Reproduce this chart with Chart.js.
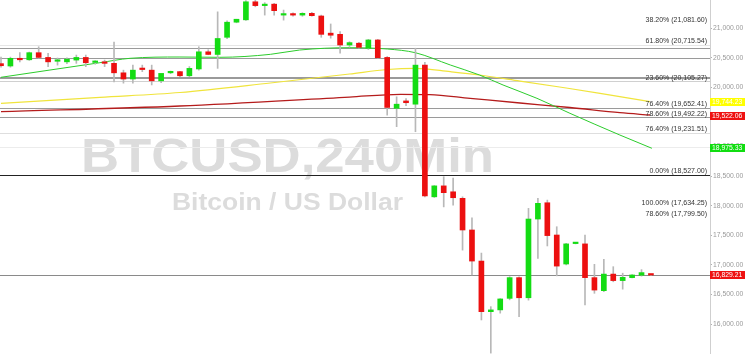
<!DOCTYPE html>
<html>
<head>
<meta charset="utf-8">
<script src="https://cdn.jsdelivr.net/npm/chart.js@4.4.1/dist/chart.umd.min.js"></script>
<style>
    html, body { margin: 0; padding: 0; background: #fff; }
    #wrap { width: 745px; height: 354px; }
</style>
</head>
<body>
<div id="wrap"><canvas id="btcChart" width="745" height="354"></canvas></div>
<script>
// BTCUSD 240 min candles
const opens  = [20400, 20360, 20490, 20465, 20585, 20505, 20440, 20430, 20460, 20505,
                20420, 20415, 20405, 20245, 20140, 20320, 20290, 20110, 20245, 20265,
                20195, 20310, 20600, 20555, 20845, 21100, 21140, 21445, 21380, 21405,
                21220, 21240, 21220, 21250, 21205, 20915, 20895, 20715, 20745, 20660,
                20800, 20505, 19645, 19770, 19715, 20375, 18150, 18335, 18235, 18125,
                17590, 17065, 16210, 16240, 16435, 16785, 16445, 17775, 18050, 17505,
                17015, 17360, 17355, 16785, 16565, 16845, 16735, 16785, 16825, 16830];
const highs  = [20510, 20510, 20585, 20595, 20685, 20575, 20495, 20500, 20545, 20545,
                20450, 20460, 20765, 20290, 20375, 20375, 20375, 20140, 20275, 20270,
                20350, 20685, 20635, 21275, 21125, 21150, 21465, 21470, 21430, 21420,
                21305, 21260, 21260, 21265, 21220, 21070, 20940, 20770, 20760, 20810,
                20810, 20520, 19840, 19810, 20660, 20420, 18340, 18490, 18465, 18150,
                17795, 17200, 16295, 16430, 16800, 16800, 17955, 18125, 18095, 17645,
                17365, 17375, 17505, 17010, 17095, 16970, 16860, 16835, 16920, 16835];
const lows   = [20340, 20340, 20430, 20455, 20490, 20350, 20375, 20400, 20405, 20350,
                20390, 20350, 20090, 20070, 20070, 20265, 20040, 20080, 20230, 20180,
                20180, 20290, 20550, 20320, 20820, 21090, 21130, 21360, 21220, 21220,
                21135, 21200, 21200, 21200, 20845, 20830, 20575, 20690, 20660, 20640,
                20490, 19530, 19335, 19690, 19250, 18150, 18140, 17980, 18010, 17250,
                16830, 16070, 15510, 16185, 16410, 16125, 16405, 17110, 17320, 16815,
                17000, 17355, 16325, 16520, 16550, 16715, 16590, 16780, 16810, 16820];
const closes = [20365, 20490, 20465, 20585, 20505, 20430, 20450, 20475, 20505, 20415,
                20428, 20405, 20245, 20140, 20290, 20300, 20110, 20235, 20265, 20195,
                20320, 20600, 20555, 20825, 21100, 21150, 21445, 21380, 21405, 21295,
                21240, 21220, 21250, 21210, 20895, 20880, 20715, 20755, 20675, 20800,
                20500, 19660, 19715, 19740, 20375, 18165, 18335, 18220, 18135, 17590,
                17065, 16210, 16240, 16425, 16785, 16445, 17775, 18040, 17495, 16980,
                17355, 17370, 16785, 16575, 16845, 16735, 16790, 16830, 16870, 16829];

// moving averages, sampled at candle positions
const maFastIdx  = [0, 5.2, 10.5, 13.7, 19, 23.2, 28.6, 31.7, 37, 41, 44, 47.7, 50.8, 53.3, 56.9, 60.4, 65.7, 69.1];
const maFast     = [20169, 20292, 20416, 20490, 20512, 20507, 20557, 20630, 20669, 20647, 20584, 20377, 20208, 20039, 19814, 19561, 19194, 18970];
const maMidIdx   = [0, 10.5, 19, 28.6, 37, 41, 44, 47.7, 50.8, 55.1, 59.3, 63.6, 68.9];
const maMid      = [19730, 19831, 19912, 20073, 20225, 20301, 20321, 20264, 20208, 20106, 20005, 19899, 19757];
const maSlowIdx  = [0, 19, 37, 42.4, 45.5, 49.8, 55.1, 60.4, 65.7, 68.9];
const maSlow     = [19588, 19684, 19836, 19882, 19878, 19814, 19735, 19659, 19571, 19532];

// fibonacci levels and other horizontal levels
const fibPct   = ['38.20%', '61.80%', '23.60%', '76.40%', '78.60%', '76.40%', '0.00%', '100.00%', '78.60%'];
const fibPrice = [21081.60, 20715.54, 20105.27, 19652.41, 19492.22, 19231.51, 18527.00, 17634.25, 17799.50];
const levelPrices = [20659, 20490, 20179, 20152, 18992];

// right-hand price tags
const tagPrices = [19744.23, 19522.06, 18975.33, 16829.21];
const lastPrice = 16829.21;

const yTicks = [16000, 16500, 17000, 17500, 18000, 18500, 19000, 19500, 20000, 20500, 21000];

const UP = '#14dc14';
const DOWN = '#ec1010';

function fmt(v) {
    return v.toLocaleString('en-US', { minimumFractionDigits: 2, maximumFractionDigits: 2 });
}

const fibLineColors = ['rgba(0,0,0,0)', '#e6e6e6', '#d0d0d0', '#9a9a9a', '#9a9a9a', '#dedede', '#222222', 'rgba(0,0,0,0)', 'rgba(0,0,0,0)'];
const fibLabelShift = [0, 0, 0, 0, 0, 0, 0, -21, 0];
const levelColors = ['#9a9a9a', '#9a9a9a', '#9a9a9a', '#9a9a9a', '#ececec'];
const tagColors = ['#ffff00', '#ee1111', '#11dd11', '#ee1111'];

const backdrop = {
    id: 'backdrop',
    beforeDatasetsDraw(chart) {
        const { ctx, chartArea: a, scales: { y } } = chart;
        ctx.save();
        // watermark
        ctx.fillStyle = '#dcdcdc';
        ctx.textBaseline = 'alphabetic';
        ctx.textAlign = 'left';
        const drawStretched = (text, font, x0, x1, base) => {
            ctx.font = font;
            const w = ctx.measureText(text).width;
            ctx.save();
            ctx.translate(x0, base);
            ctx.scale((x1 - x0) / w, 1);
            ctx.fillText(text, 0, 0);
            ctx.restore();
        };
        drawStretched('BTCUSD,240Min', 'bold 49px "Liberation Sans", Arial, sans-serif', 81, 494, 172);
        drawStretched('Bitcoin / US Dollar', 'bold 24px "Liberation Sans", Arial, sans-serif', 172, 403, 210);

        ctx.lineWidth = 1;
        const hline = (price, color) => {
            const py = Math.round(y.getPixelForValue(price)) + 0.5;
            ctx.strokeStyle = color;
            ctx.beginPath();
            ctx.moveTo(a.left, py);
            ctx.lineTo(a.right, py);
            ctx.stroke();
        };
        levelPrices.forEach((p, i) => hline(p, levelColors[i]));
        fibPrice.forEach((p, i) => hline(p, fibLineColors[i]));
        hline(lastPrice, '#8a8a8a');
        ctx.restore();
    },
    afterDraw(chart) {
        const { ctx, chartArea: a, scales: { y } } = chart;
        ctx.save();
        ctx.font = '7px "Liberation Sans", Arial, sans-serif';
        ctx.fillStyle = '#333';
        ctx.textAlign = 'right';
        ctx.textBaseline = 'bottom';
        fibPrice.forEach((p, i) => {
            const py = y.getPixelForValue(p) + fibLabelShift[i];
            ctx.fillText(`${fibPct[i]} (${fmt(p)})`, a.right - 3, py);
        });
        // price tags on the axis
        ctx.font = '6.8px "Liberation Sans", Arial, sans-serif';
        ctx.textAlign = 'left';
        ctx.textBaseline = 'middle';
        tagPrices.forEach((p, i) => {
            const py = Math.round(y.getPixelForValue(p));
            ctx.fillStyle = tagColors[i];
            ctx.fillRect(a.right, py - 4, chart.width - a.right, 8);
            ctx.fillStyle = '#fff';
            ctx.fillText(fmt(p), a.right + 2, py + 0.5);
        });
        ctx.restore();
    }
};

const ctxBtc = document.getElementById('btcChart').getContext('2d');
const btcChart = new Chart(ctxBtc, {
    type: 'bar',
    data: {
        datasets: [
            {
                label: 'wicks',
                data: opens.map((o, i) => ({ x: i, y: [lows[i], highs[i]] })),
                backgroundColor: '#b8b8b8',
                barThickness: 1,
                grouped: false,
                order: 1
            },
            {
                label: 'bodies',
                data: opens.map((o, i) => ({ x: i, y: [o, closes[i]] })),
                backgroundColor: c => closes[c.dataIndex] >= opens[c.dataIndex] ? UP : DOWN,
                barThickness: 5,
                minBarLength: 1.5,
                grouped: false,
                order: 0
            },
            {
                type: 'line',
                label: 'MA slow',
                data: maSlowIdx.map((x, i) => ({ x, y: maSlow[i] })),
                borderColor: '#b51c1c',
                borderWidth: 1.3,
                pointRadius: 0,
                cubicInterpolationMode: 'monotone',
                order: 3
            },
            {
                type: 'line',
                label: 'MA mid',
                data: maMidIdx.map((x, i) => ({ x, y: maMid[i] })),
                borderColor: '#f0e43c',
                borderWidth: 1.2,
                pointRadius: 0,
                cubicInterpolationMode: 'monotone',
                order: 3
            },
            {
                type: 'line',
                label: 'MA fast',
                data: maFastIdx.map((x, i) => ({ x, y: maFast[i] })),
                borderColor: '#2ccc2c',
                borderWidth: 1,
                pointRadius: 0,
                cubicInterpolationMode: 'monotone',
                order: 2
            }
        ]
    },
    options: {
        responsive: false,
        animation: false,
        events: [],
        layout: { padding: 0 },
        plugins: {
            legend: { display: false },
            tooltip: { enabled: false }
        },
        scales: {
            x: {
                type: 'linear',
                min: -0.106,
                max: 75.27,
                offset: false,
                display: false
            },
            y: {
                position: 'right',
                min: 15495,
                max: 21475,
                afterBuildTicks: s => { s.ticks = yTicks.map(v => ({ value: v })); },
                afterFit: s => { s.width = 35; s.paddingTop = 0; s.paddingBottom = 0; },
                ticks: {
                    font: { size: 6.8, family: '"Liberation Sans", Arial, sans-serif' },
                    color: '#9a9a9a',
                    padding: 1,
                    callback: v => fmt(v)
                },
                grid: { drawOnChartArea: false, drawTicks: true, tickLength: 2, color: '#b0b0b0' },
                border: { display: true, color: '#cfcfcf' }
            }
        }
    },
    plugins: [backdrop]
});
</script>
</body>
</html>
